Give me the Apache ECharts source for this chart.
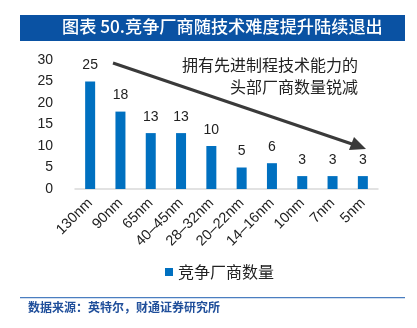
<!DOCTYPE html>
<html><head><meta charset="utf-8">
<script src="https://cdn.jsdelivr.net/npm/echarts@6/dist/echarts.min.js"></script>
<style>html,body{margin:0;padding:0;background:#fff}#c{width:417px;height:328px}</style>
</head><body><div id="c"></div>
<script>
const categories = ['130nm','90nm','65nm','40–45nm','28–32nm','20–22nm','14–16nm','10nm','7nm','5nm'];
const values = [25, 18, 13, 13, 10, 5, 6, 3, 3, 3];
const seriesName = '竞争厂商数量';
const titleText = '图表 50.竞争厂商随技术难度提升陆续退出';
const noteLines = ['拥有先进制程技术能力的', '头部厂商数量锐减'];
const sourceText = '数据来源：英特尔，财通证券研究所';
const yTicks = {min: 0, max: 30, interval: 5};

const chart = echarts.init(document.getElementById('c'), null, {renderer: 'canvas'});
const cjk = '"Noto Sans CJK SC", sans-serif';
chart.setOption({
  animation: false,
  textStyle: {fontFamily: 'Arial, "Liberation Sans", "Noto Sans CJK SC", sans-serif'},
  grid: {left: 75, right: 39, top: 60, bottom: 139, containLabel: false},
  xAxis: {
    type: 'category', data: categories,
    axisLine: {lineStyle: {color: '#d9d9d9', width: 1.5}},
    axisTick: {show: false},
    axisLabel: {rotate: 45, color: '#222', fontSize: 14.5, margin: 12, interval: 0}
  },
  yAxis: {
    type: 'value', min: yTicks.min, max: yTicks.max, interval: yTicks.interval,
    splitLine: {show: false}, axisLine: {show: false}, axisTick: {show: false},
    axisLabel: {color: '#222', fontSize: 14, margin: 22}
  },
  legend: {
    bottom: 43, left: 160, icon: 'rect', itemWidth: 8, itemHeight: 8, itemGap: 5,
    textStyle: {fontFamily: cjk, fontSize: 16, color: '#222'},
    data: [seriesName]
  },
  series: [{
    name: seriesName, type: 'bar', data: values, barWidth: 10,
    itemStyle: {color: '#0070c0'},
    label: {show: true, position: 'top', distance: 9, color: '#222', fontSize: 14}
  }],
  graphic: [
    {type: 'rect', shape: {x: 20, y: 15, width: 385, height: 26}, style: {fill: '#0a52a3'}},
    {type: 'text', left: 62, top: 18, style: {text: titleText, fill: '#fff', font: '500 17.2px ' + cjk}},
    {type: 'line', shape: {x1: 113, y1: 63, x2: 352, y2: 144}, style: {stroke: '#3a3a3a', lineWidth: 3}},
    {type: 'polygon', shape: {points: [[366, 149], [349, 150], [354, 137]]}, style: {fill: '#3a3a3a'}},
    {type: 'text', right: 59, top: 57, style: {text: noteLines[0], fill: '#222', font: '16px ' + cjk, align: 'right'}},
    {type: 'text', right: 59, top: 79, style: {text: noteLines[1], fill: '#222', font: '16px ' + cjk, align: 'right'}},
    {type: 'rect', shape: {x: 20, y: 297, width: 385, height: 1.2}, style: {fill: '#4a7ec0'}},
    {type: 'text', left: 28, top: 301, style: {text: sourceText, fill: '#1f4e9a', font: 'bold 12px ' + cjk}}
  ]
});
</script></body></html>
